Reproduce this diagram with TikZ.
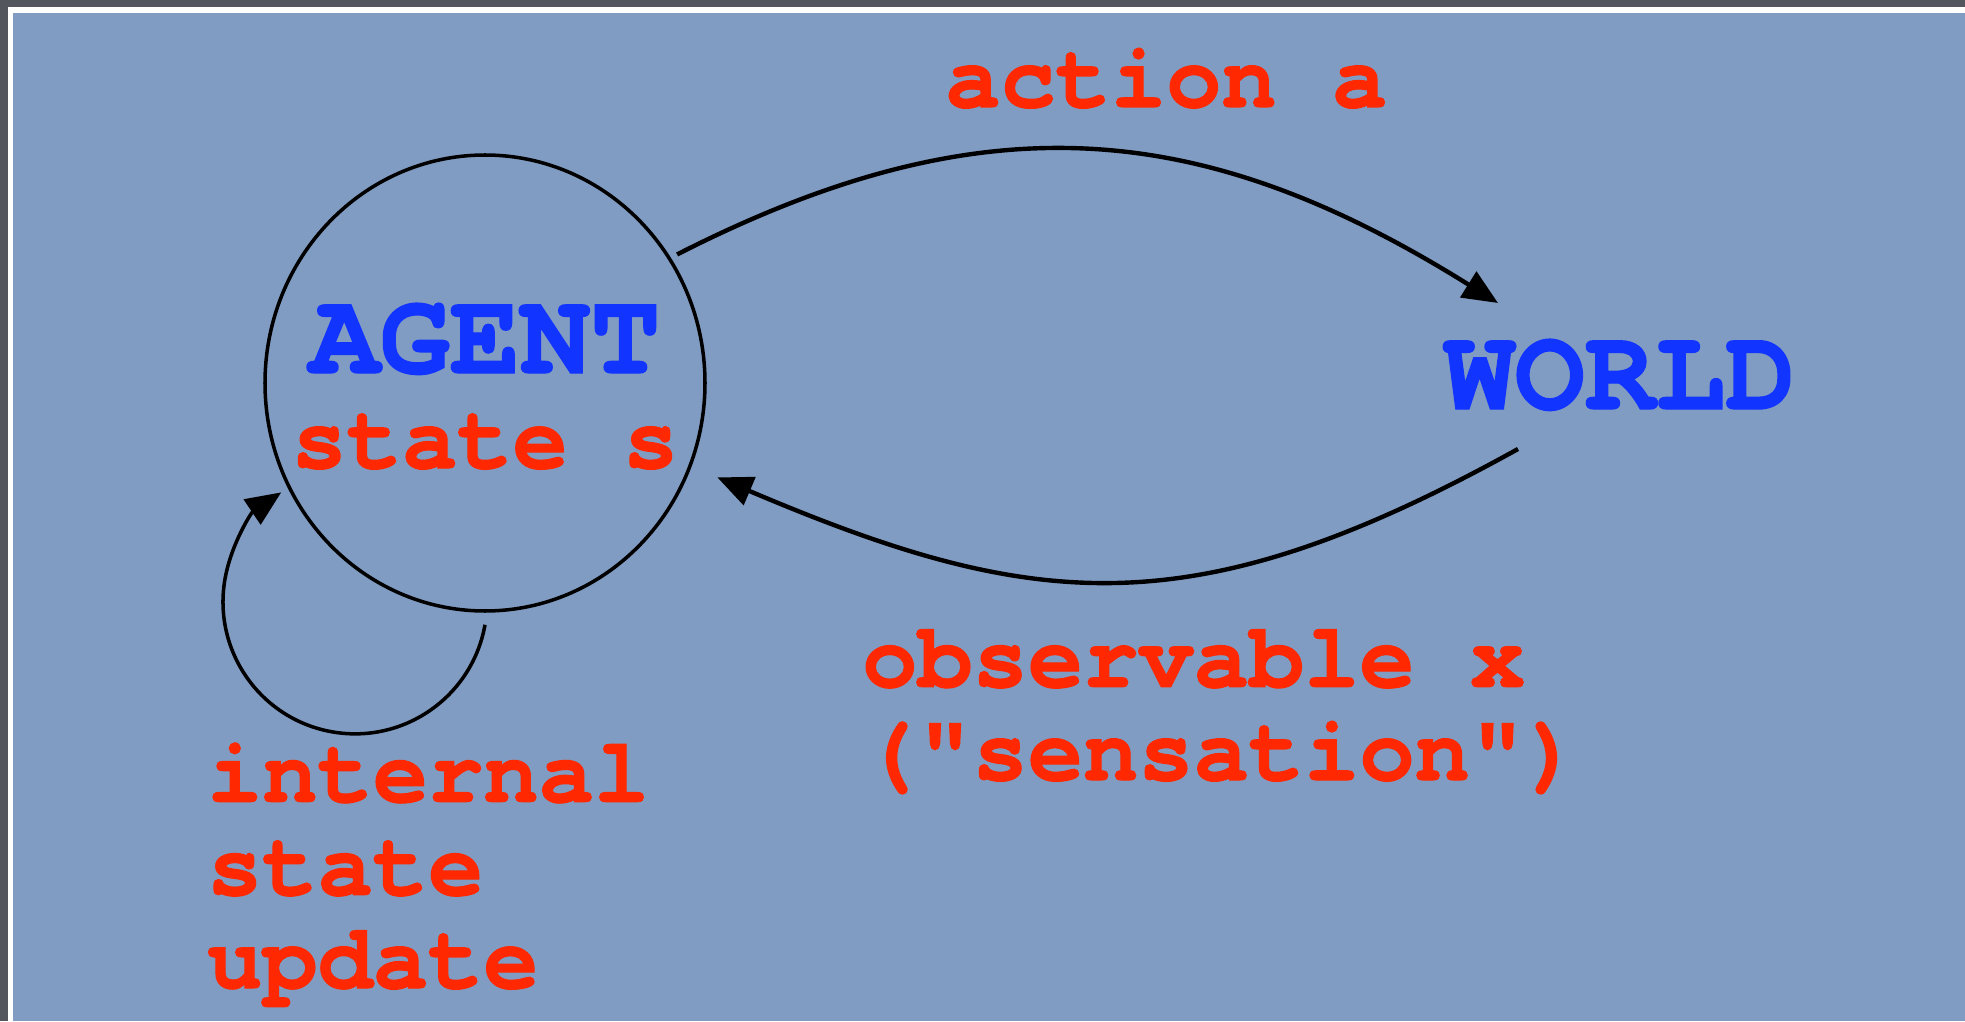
\documentclass[tikz,border=0pt]{standalone}
\usepackage{fontspec}
\setmonofont{texgyrecursor}[Extension=.otf, UprightFont=*-regular,
  BoldFont=*-bold, BoldFeatures={FakeBold=1.2}]
\usepackage{tikz}
\usetikzlibrary{arrows.meta,shapes.geometric}
\definecolor{slide}{RGB}{129,156,194}
\definecolor{slideedge}{RGB}{84,86,94}
\definecolor{txtred}{RGB}{255,40,0}
\definecolor{txtblue}{RGB}{18,52,255}
\tikzset{
  lbl/.style = {inner sep=0pt, font=\ttfamily\bfseries},
  big/.style = {lbl, txtblue,
    font=\ttfamily\bfseries\fontsize{33.3}{36}\selectfont},% AGENT, WORLD
  rd/.style = {lbl, txtred, align=left,
    font=\ttfamily\bfseries\fontsize{26.2}{26.5}\selectfont},% red labels
  ag/.style = {ellipse, draw=black, line width=1pt, inner sep=0pt,
    minimum width=4.40cm, minimum height=4.56cm}% agent ring
}
\begin{document}
\begin{tikzpicture}[>={Triangle[length=10pt,width=8.5pt]}, line width=1.25pt]
% slide background
\useasboundingbox (0,0) rectangle (19.65,10.21);
\fill[slideedge] (0,0) rectangle (19.65,10.21);
\fill[white] (0.08,0) rectangle (19.65,10.14);
\fill[slide] (0.13,0) rectangle (19.65,10.08);

\node [ag] (agent) at (4.85,6.38) {};
\node [big, anchor=base] (agenttxt) at (4.85,6.48) {AGENT};
\node [rd, anchor=base] (statetxt) at (4.85,5.53) {state s};
\node [big, anchor=base] (world) at (16.20,6.12) {WORLD};
\node [rd, anchor=base west] (action) at (9.43,9.14) {action a};
\node [rd, anchor=base west] (obs) at (8.60,2.41) {observable x\\("sensation")};
\node [rd, anchor=base west] (update) at (2.05,0.33) {internal\\state\\update};

% arrows
\coordinate (actEnd) at (14.98,7.18);
\coordinate (obsStart) at (15.18,5.72);
\draw[->, shorten <=2pt] (agent.34) to[out=27, in=148, looseness=1.08] (actEnd);
\draw[->, shorten >=0.28cm] (obsStart) to[out=209, in=-23, looseness=1.15] (agent.-22);
\draw[->, line width=1pt] ([yshift=-0.12cm]agent.south)
  arc[start angle=-10, end angle=-236, radius=1.32];
\end{tikzpicture}
\end{document}
